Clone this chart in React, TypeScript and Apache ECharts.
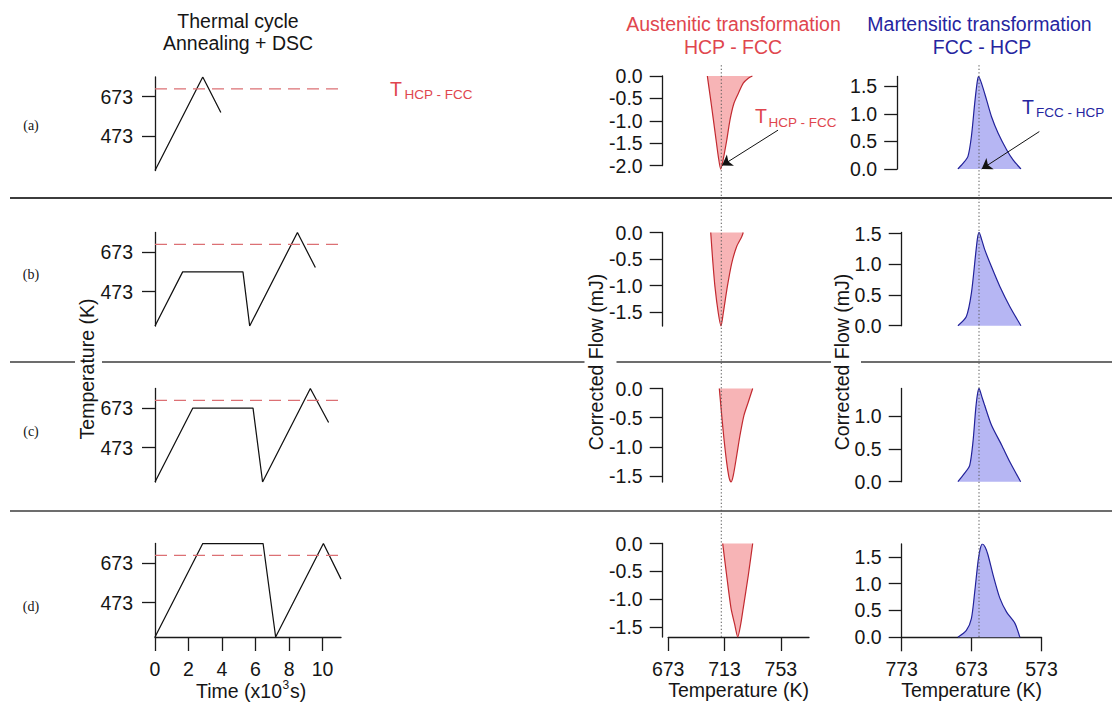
import * as echarts from 'echarts';
import { useEffect, useRef } from 'react';

// thermal cycles, [time (x10^3 s), temperature (K)]
const cycleA = [[0, 298], [2.85, 773], [3.93, 593]];
const cycleB = [[0, 298], [1.65, 573], [5.25, 573], [5.65, 298], [8.5, 773], [9.57, 595]];
const cycleC = [[0, 298], [2.25, 673], [5.85, 673], [6.42, 298], [9.27, 773], [10.36, 600]];
const cycleD = [[0, 298], [2.85, 773], [6.45, 773], [7.2, 298], [10.05, 773], [11.1, 592]];
const cycles = [cycleA, cycleB, cycleC, cycleD];

// T(HCP-FCC) reference in the cycle panels, drawn past the end of the time axis
const tHcpFcc = 713;
const dashEndTime = 13.6;

// austenitic peaks (heating), [temperature (K), corrected flow (mJ)]
const austA = [
  [700.8, 0], [701.5, -0.16], [703.2, -0.54], [705.1, -0.98], [707.0, -1.43], [708.6, -1.8],
  [710.3, -2.08], [712.2, -1.84], [714.6, -1.43], [716.9, -0.98], [719.7, -0.61], [722.8, -0.39],
  [726.3, -0.16], [729.9, -0.05], [732.8, 0],
];
const austB = [
  [703.2, 0], [704.6, -0.52], [706.2, -1.02], [708.6, -1.52], [710.5, -1.76], [712.1, -1.52],
  [715.0, -1.02], [718.1, -0.58], [721.7, -0.26], [725.2, -0.08], [726.3, 0],
];
const austC = [
  [709.3, 0], [711.0, -0.46], [712.6, -0.86], [714.5, -1.26], [716.2, -1.52], [717.6, -1.6],
  [719.2, -1.49], [721.7, -1.14], [724.0, -0.8], [726.8, -0.46], [729.9, -0.23], [733.0, 0],
];
const austD = [
  [711.7, 0], [714.5, -0.57], [717.6, -1.16], [720.2, -1.45], [722.4, -1.68], [724.5, -1.45],
  [726.3, -1.16], [729.9, -0.57], [733.0, 0],
];
const austPeaks = [austA, austB, austC, austD];

// martensitic peaks (cooling), [temperature (K), corrected flow (mJ)]
const martA = [
  [692.6, 0], [685.4, 0.1], [678.2, 0.23], [673.3, 0.59], [668.5, 1.2], [665.2, 1.56], [663.2, 1.68],
  [658.9, 1.56], [651.7, 1.26], [644.5, 0.95], [635.0, 0.65], [622.9, 0.35], [613.4, 0.16], [602.4, 0],
];
const martB = [
  [692.6, 0], [680.5, 0.15], [673.3, 0.53], [667.1, 1.18], [664.4, 1.44], [662.3, 1.52], [658.5, 1.4],
  [654.2, 1.24], [644.5, 0.96], [632.6, 0.64], [618.2, 0.31], [602.4, 0],
];
const martC = [
  [692.6, 0], [682.9, 0.13], [675.7, 0.25], [671.0, 0.61], [667.1, 1.11], [664.5, 1.34], [662.3, 1.42],
  [658.5, 1.3], [654.2, 1.16], [644.5, 0.86], [630.1, 0.56], [618.2, 0.3], [602.8, 0],
];
const martD = [
  [692.6, 0], [680.5, 0.13], [673.3, 0.35], [668.5, 0.85], [663.8, 1.41], [660.5, 1.66], [657.5, 1.74],
  [653.5, 1.68], [649.4, 1.53], [642.2, 1.16], [632.6, 0.73], [622.9, 0.47], [611.0, 0.26], [603.9, 0],
];
const martPeaks = [martA, martB, martC, martD];

// dotted transformation temperatures across the DSC columns
const tAustDotted = 710.7;
const tMartDotted = 662.4;

// arrows [from, to] in each panel (a) data space
const austArrow = [[751, -1.21], [711.2, -2.0]];
const martArrow = [[576.1, 0.68], [658.6, 0]];

// axis ranges and ticks
const timeRange = [0, 11.1];
const cycleTempRange = [298, 773];
const austTempRange = [673, 773];
const martTempRange = [573, 773];
const austFlowMin = [-2.0, -1.76, -1.6, -1.68];
const martFlowMax = [1.68, 1.52, 1.42, 1.74];
const timeTicks = [0, 2, 4, 6, 8, 10];
const cycleTempTicks = [473, 673];
const austTempTicks = [673, 713, 753];
const martTempTicks = [773, 673, 573];
const austFlowTicks = [
  [0, -0.5, -1, -1.5, -2],
  [0, -0.5, -1, -1.5],
  [0, -0.5, -1, -1.5],
  [0, -0.5, -1, -1.5],
];
const martFlowTicks = [
  [0, 0.5, 1, 1.5],
  [0, 0.5, 1, 1.5],
  [0, 0.5, 1],
  [0, 0.5, 1, 1.5],
];
const rowLabels = ['(a)', '(b)', '(c)', '(d)'];

// layout
const FONT = '"Liberation Sans", Arial, Helvetica, sans-serif';
const FS = 19.5;
const INK = '#151515';
const RED = '#e0464e';
const RED_LINE = '#c22a30';
const RED_FILL = '#f7b4b6';
const BLUE = '#25259f';
const BLUE_LINE = '#22229a';
const BLUE_FILL = '#b6b6f3';

const cycBox = { left: 155, width: 186, top: [77, 232.5, 388.5, 543.5], height: [93.5, 93.5, 93.5, 93.5] };
const ausBox = { left: 668.2, width: 140.8, top: [76, 232.5, 388.5, 543.5], height: [89.5, 93.5, 93.5, 93.5] };
const marBox = { left: 901.7, width: 139.8, top: [76.5, 232.5, 388.5, 544], height: [92.5, 93.2, 93.2, 93.3] };
const marYOffset = [4.5, 0, 0, 0];
const rowLabelY = [125, 274, 431, 606];

const stroke = { color: '#1a1a1a', width: 1.3 };

function hiddenX(range: number[], inverse = false) {
  return { type: 'value', min: range[0], max: range[1], inverse, show: false };
}

function shownX(range: number[], ticks: number[], inverse = false, name = '') {
  return {
    type: 'value',
    min: range[0],
    max: range[1],
    inverse,
    axisLine: { show: true, onZero: false, lineStyle: stroke },
    axisTick: { show: true, customValues: ticks, length: 14, lineStyle: stroke },
    axisLabel: { show: true, customValues: ticks, margin: 22, fontSize: FS, color: INK, fontFamily: FONT },
    splitLine: { show: false },
    name,
    nameLocation: 'middle',
    nameGap: 41,
    nameTextStyle: { fontSize: FS, color: INK, fontFamily: FONT },
  };
}

function valueY(min: number, max: number, ticks: number[], offset: number, margin: number, fixed = false) {
  return {
    type: 'value',
    min,
    max,
    offset,
    axisLine: { show: true, onZero: false, lineStyle: stroke },
    axisTick: { show: true, customValues: ticks, length: 13, lineStyle: stroke },
    axisLabel: {
      show: true,
      customValues: ticks,
      margin,
      fontSize: FS,
      color: INK,
      fontFamily: FONT,
      formatter: fixed ? (v: number) => v.toFixed(1) : undefined,
    },
    splitLine: { show: false },
  };
}

function arrowLine(pair: number[][]) {
  return {
    silent: true,
    symbol: ['none', 'arrow'],
    symbolSize: 10,
    label: { show: false },
    emphasis: { disabled: true },
    lineStyle: { color: '#111', width: 1, type: 'solid' },
    data: [[{ coord: pair[0] }, { coord: pair[1] }]],
  };
}

function text(x: number, y: number, str: string, opts: any = {}) {
  return {
    type: 'text',
    x,
    y,
    rotation: opts.rotation || 0,
    silent: true,
    z: 10,
    style: {
      text: str,
      fill: opts.fill || INK,
      fontSize: opts.fontSize || FS,
      fontFamily: opts.fontFamily || FONT,
      align: opts.align || 'center',
      verticalAlign: 'middle',
    },
  };
}

function buildOption() {
  const grid: any[] = [];
  const xAxis: any[] = [];
  const yAxis: any[] = [];
  const series: any[] = [];

  const add = (g: any, x: any, y: any) => {
    grid.push({ ...g, containLabel: false, outerBoundsMode: 'none' });
    const idx = grid.length - 1;
    xAxis.push({ ...x, gridIndex: idx });
    yAxis.push({ ...y, gridIndex: idx });
    return idx;
  };

  for (let i = 0; i < 4; i++) {
    const last = i === 3;

    // thermal cycle
    const gc = add(
      { left: cycBox.left, width: cycBox.width, top: cycBox.top[i], height: cycBox.height[i] },
      last ? shownX(timeRange, timeTicks) : hiddenX(timeRange),
      valueY(cycleTempRange[0], cycleTempRange[1], cycleTempTicks, 0, 22),
    );
    series.push({
      type: 'line',
      xAxisIndex: gc,
      yAxisIndex: gc,
      data: cycles[i],
      symbol: 'none',
      silent: true,
      lineStyle: { color: '#111', width: 1.25 },
    });
    series.push({
      type: 'line',
      xAxisIndex: gc,
      yAxisIndex: gc,
      data: [[0, tHcpFcc], [dashEndTime, tHcpFcc]],
      symbol: 'none',
      silent: true,
      clip: false,
      lineStyle: { color: '#dc7074', width: 1.3, type: [12, 7] },
    });

    // austenitic transformation
    const ga = add(
      { left: ausBox.left, width: ausBox.width, top: ausBox.top[i], height: ausBox.height[i] },
      last ? shownX(austTempRange, austTempTicks, false, 'Temperature (K)') : hiddenX(austTempRange),
      valueY(austFlowMin[i], 0, austFlowTicks[i], 5.5, 20, true),
    );
    series.push({
      type: 'line',
      xAxisIndex: ga,
      yAxisIndex: ga,
      data: austPeaks[i],
      symbol: 'none',
      silent: true,
      clip: false,
      smooth: 0.25,
      lineStyle: { color: RED_LINE, width: 1.2 },
      areaStyle: { color: RED_FILL, opacity: 1 },
      markLine: i === 0 ? arrowLine(austArrow) : undefined,
    });

    // martensitic transformation
    const gm = add(
      { left: marBox.left, width: marBox.width, top: marBox.top[i], height: marBox.height[i] },
      last ? shownX(martTempRange, martTempTicks, true, 'Temperature (K)') : hiddenX(martTempRange, true),
      valueY(0, martFlowMax[i], martFlowTicks[i], marYOffset[i], 20, true),
    );
    series.push({
      type: 'line',
      xAxisIndex: gm,
      yAxisIndex: gm,
      data: martPeaks[i],
      symbol: 'none',
      silent: true,
      smooth: 0.25,
      lineStyle: { color: BLUE_LINE, width: 1.2 },
      areaStyle: { color: BLUE_FILL, opacity: 1 },
      markLine: i === 0 ? arrowLine(martArrow) : undefined,
    });
  }

  // tall overlay grids carrying the dotted transformation temperatures
  const go1 = add(
    { left: ausBox.left, width: ausBox.width, top: 63, height: 574 },
    hiddenX(austTempRange),
    { type: 'value', min: 0, max: 1, show: false },
  );
  series.push({
    type: 'line',
    xAxisIndex: go1,
    yAxisIndex: go1,
    data: [[tAustDotted, 0], [tAustDotted, 1]],
    symbol: 'none',
    silent: true,
    lineStyle: { color: '#5a5a5a', width: 1, type: [1.3, 2.2] },
  });
  const go2 = add(
    { left: marBox.left, width: marBox.width, top: 63, height: 574 },
    hiddenX(martTempRange, true),
    { type: 'value', min: 0, max: 1, show: false },
  );
  series.push({
    type: 'line',
    xAxisIndex: go2,
    yAxisIndex: go2,
    data: [[tMartDotted, 0], [tMartDotted, 1]],
    symbol: 'none',
    silent: true,
    lineStyle: { color: '#5a5a5a', width: 1, type: [1.3, 2.2] },
  });

  const separators = [198, 362, 511];
  const gaps = [[75, 102], [584.5, 616.5], [831, 861]];

  const graphic: any[] = [
    ...separators.map((y, i) => ({
      type: 'line',
      silent: true,
      z: 1,
      shape: { x1: 10, y1: y, x2: 1112, y2: y },
      style: { stroke: '#3c3c3c', lineWidth: i === 0 ? 2 : 1.3 },
    })),
    ...gaps.map(([a, b]) => ({
      type: 'rect',
      silent: true,
      z: 2,
      shape: { x: a, y: 358, width: b - a, height: 8 },
      style: { fill: '#ffffff' },
    })),

    // column titles
    text(238, 21, 'Thermal cycle'),
    text(238, 43, 'Annealing + DSC'),
    text(733.5, 24, 'Austenitic transformation', { fill: RED }),
    text(733, 46.5, 'HCP - FCC', { fill: RED }),
    text(979.5, 24, 'Martensitic transformation', { fill: BLUE }),
    text(982, 46.5, 'FCC - HCP', { fill: BLUE }),

    // rotated axis titles
    text(86.5, 369, 'Temperature (K)', { rotation: Math.PI / 2 }),
    text(596, 362, 'Corrected Flow (mJ)', { rotation: Math.PI / 2 }),
    text(842, 362, 'Corrected Flow (mJ)', { rotation: Math.PI / 2 }),

    // time axis title with superscript
    text(282, 691, 'Time (x10', { align: 'right' }),
    text(282.5, 685, '3', { align: 'left', fontSize: 12 }),
    text(290, 691, 's)', { align: 'left' }),

    // annotations
    text(390, 88.5, 'T', { align: 'left', fill: RED }),
    text(404.5, 94, 'HCP - FCC', { align: 'left', fill: RED, fontSize: 13.5 }),
    text(755, 115.5, 'T', { align: 'left', fill: RED }),
    text(768.5, 122, 'HCP - FCC', { align: 'left', fill: RED, fontSize: 13.5 }),
    text(1022, 106.5, 'T', { align: 'left', fill: BLUE }),
    text(1036, 112.5, 'FCC - HCP', { align: 'left', fill: BLUE, fontSize: 13.5 }),

    // row labels
    ...rowLabels.map((s, i) => text(31, rowLabelY[i], s, { fontFamily: '"Liberation Serif", "Times New Roman", serif', fontSize: 14 })),
  ];

  return {
    animation: false,
    textStyle: { fontFamily: FONT },
    grid,
    xAxis,
    yAxis,
    series,
    graphic,
  };
}

export default function App() {
  const chartRef = useRef<HTMLDivElement>(null);

  useEffect(() => {
    if (!chartRef.current) return;
    const chart = echarts.init(chartRef.current, undefined, { renderer: 'svg' });
    chart.setOption(buildOption());
    return () => chart.dispose();
  }, []);

  return (
    <div
      ref={chartRef}
      style={{ position: 'absolute', left: 0, top: 0, width: 1112, height: 704, background: '#fff' }}
    />
  );
}
